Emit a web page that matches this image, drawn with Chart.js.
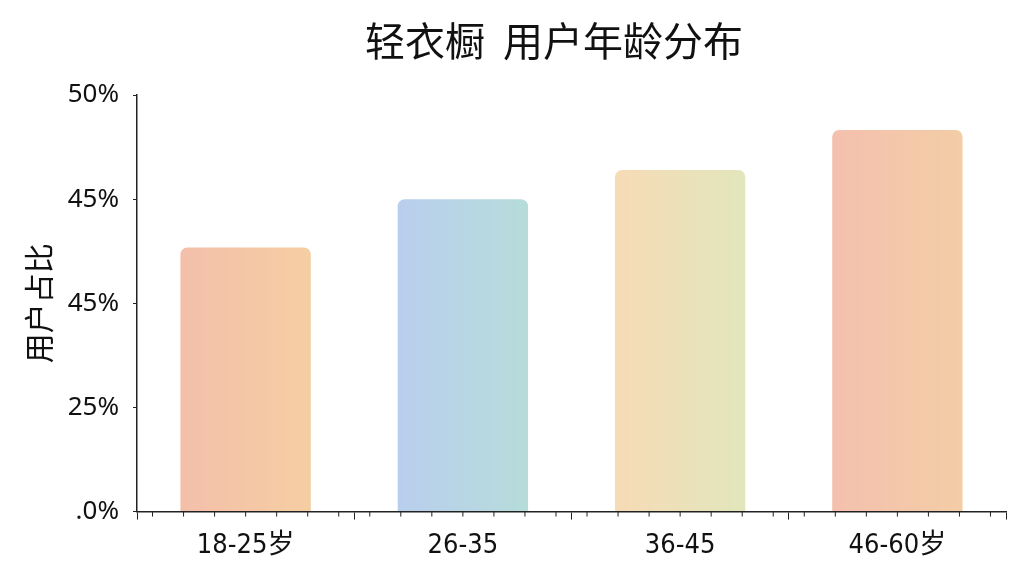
<!DOCTYPE html>
<html><head><meta charset="utf-8">
<script src="https://cdn.jsdelivr.net/npm/chart.js@4"></script>
<style>html,body{margin:0;padding:0;background:#fff}#wrap{width:1024px;height:576px}</style>
</head><body><div id="wrap"><canvas id="c" width="1024" height="576"></canvas></div>
<script>
const categories = ['18-25岁', '26-35', '36-45', '46-60岁'];
const shares = [31.7, 37.5, 41.0, 45.8];
const yTickLabels = ['.0%', '25%', '45%', '45%', '50%'];
const titleText = '轻衣橱  用户年龄分布';
const yTitle = '用户占比';
const barColorsLeft = ['#F3BFAA', '#B9CEEE', '#F6DBB6', '#F4C0AE'];
const barColorsRight = ['#F5CEA2', '#B6DCDA', '#E2E6BC', '#F3CDA6'];

const minorTicks = {
  id: 'minorTicks',
  afterDraw(chart) {
    const {ctx, chartArea, scales} = chart;
    const y = scales.y.bottom;
    ctx.save();
    ctx.strokeStyle = '#222';
    ctx.lineWidth = 1;
    const step = (scales.x.getPixelForValue(1) - scales.x.getPixelForValue(0)) / 7;
    for (let x = chartArea.left + step * 0.5; x <= chartArea.right + 1; x += step) {
      ctx.beginPath(); ctx.moveTo(x, y); ctx.lineTo(x, y + 5); ctx.stroke();
    }
    ctx.restore();
  }
};

const titlePlugin = {
  id: 'customTitle',
  afterDraw(chart) {
    const ctx = chart.ctx;
    ctx.save();
    ctx.fillStyle = '#111';
    ctx.font = 'normal 40px "Noto Sans CJK SC", "Noto Sans", sans-serif';
    ctx.textAlign = 'center';
    ctx.textBaseline = 'middle';
    ctx.fillText(titleText, 554, 41);
    ctx.restore();
  }
};

new Chart(document.getElementById('c'), {
  type: 'bar',
  data: {
    labels: categories,
    datasets: [{
      data: shares,
      backgroundColor(ctx) {
        const chart = ctx.chart;
        const i = ctx.dataIndex;
        if (!chart.chartArea || !chart.scales.x || i === undefined) return barColorsLeft[i || 0];
        const sx = chart.scales.x;
        const cx = sx.getPixelForValue(i);
        const w = (sx.getPixelForValue(1) - sx.getPixelForValue(0)) * 0.6;
        if (!isFinite(cx) || !isFinite(w)) return barColorsLeft[i];
        const g = chart.ctx.createLinearGradient(cx - w / 2, 0, cx + w / 2, 0);
        g.addColorStop(0, barColorsLeft[i]);
        g.addColorStop(1, barColorsRight[i]);
        return g;
      },
      borderRadius: {topLeft: 7, topRight: 7, bottomLeft: 0, bottomRight: 0},
      borderSkipped: 'bottom',
      categoryPercentage: 0.6,
      barPercentage: 1.0
    }]
  },
  options: {
    responsive: false,
    animation: false,
    devicePixelRatio: 1,
    layout: {padding: {left: 17, right: 18, top: 95, bottom: 4}},
    plugins: {
      legend: {display: false},
      tooltip: {enabled: false},
      title: {display: false}
    },
    scales: {
      x: {
        grid: {display: true, drawOnChartArea: false, drawTicks: true, tickLength: 8, color: '#222'},
        border: {display: true, color: '#222', width: 1.5},
        ticks: {
          color: '#111', padding: 10,
          font: {family: '"DejaVu Sans Condensed", "Noto Sans CJK SC", sans-serif', size: 27}
        }
      },
      y: {
        min: 0, max: 50,
        afterFit(scale) { scale.width = 120; },
        grid: {display: true, drawOnChartArea: false, drawTicks: true, tickLength: 4, color: '#222'},
        border: {display: true, color: '#222', width: 1.5},
        ticks: {
          stepSize: 12.5, color: '#111', padding: 14,
          font: {family: '"Noto Sans", sans-serif', size: 26},
          callback(v, i) { return yTickLabels[i]; }
        },
        title: {
          display: true, text: yTitle, color: '#111',
          font: {family: '"Noto Sans CJK SC", sans-serif', size: 30},
          padding: {bottom: 4}
        }
      }
    }
  },
  plugins: [minorTicks, titlePlugin]
});
</script></body></html>
